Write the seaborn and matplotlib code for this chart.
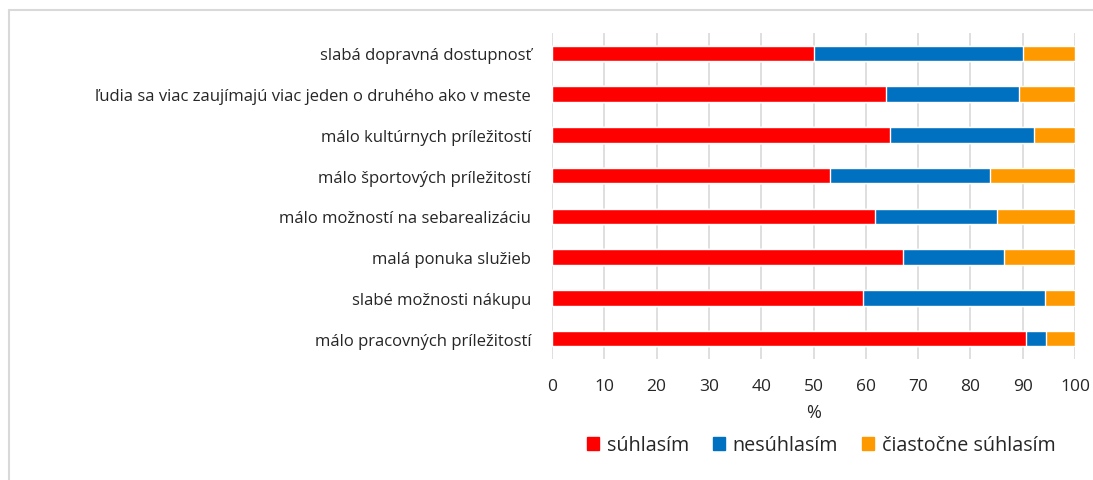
import matplotlib.pyplot as plt
import matplotlib.lines as mlines
import matplotlib.patches as mpatches
import seaborn as sns
import pandas as pd

categories = [
    "slabá dopravná dostupnosť",
    "ľudia sa viac zaujímajú viac jeden o druhého ako v meste",
    "málo kultúrnych príležitostí",
    "málo športových príležitostí",
    "málo možností na sebarealizáciu",
    "malá ponuka služieb",
    "slabé možnosti nákupu",
    "málo pracovných príležitostí",
]
suhlasim = [50.0, 63.8, 64.7, 53.1, 61.7, 67.2, 59.4, 90.7]
nesuhlasim = [40.0, 25.5, 27.5, 30.6, 23.4, 19.3, 34.8, 3.7]
ciastocne = [10.0, 10.7, 7.8, 16.3, 14.9, 13.5, 5.8, 5.6]

series = ["súhlasím", "nesúhlasím", "čiastočne súhlasím"]
colors = ["#ff0000", "#0070c0", "#ff9900"]

df = pd.DataFrame({"kat": categories, "s": suhlasim, "n": nesuhlasim, "c": ciastocne})
df["sn"] = df["s"] + df["n"]
df["snc"] = df["sn"] + df["c"]

sns.set_style("white")
plt.rcParams["font.family"] = ["Open Sans", "DejaVu Sans"]
txt = "#262626"

fig = plt.figure(figsize=(10.93, 4.81), dpi=100)
ax = fig.add_axes([552 / 1093, 1 - 360 / 481, (1075 - 552) / 1093, (360 - 34) / 481])

# stacked: draw cumulative totals from back to front
for col, c in zip(["snc", "sn", "s"], colors[::-1]):
    sns.barplot(data=df, x=col, y="kat", orient="h", color=c, width=0.38,
                saturation=1, ax=ax, zorder=3)

ax.set_xlim(0, 100)
ax.set_xticks(range(0, 101, 10))
ax.grid(axis="x", color="#d9d9d9", linewidth=1.2, zorder=0)
ax.set_axisbelow(True)
for s in ax.spines.values():
    s.set_visible(False)
ax.tick_params(axis="y", length=0, labelsize=12, colors=txt, pad=15)
ax.tick_params(axis="x", length=0, labelsize=12.5, colors=txt, pad=14)
ax.set_ylabel("")
ax.set_xlabel("%", fontsize=13, color=txt, labelpad=6)

handles = [mpatches.Patch(color=c, label=l) for c, l in zip(colors, series)]
ax.legend(handles=handles, loc="upper center", bbox_to_anchor=(0.515, -0.18),
          ncol=3, frameon=False, fontsize=14.2, handlelength=0.6, handleheight=0.6,
          handletextpad=0.4, columnspacing=1.2, labelcolor=txt)

# outer frame (only left and top visible)
fig.add_artist(mlines.Line2D([9 / 1093, 9 / 1093], [0, 1 - 11 / 481],
                             transform=fig.transFigure, color="#d9d9d9", linewidth=1.5))
fig.add_artist(mlines.Line2D([9 / 1093, 1], [1 - 11 / 481, 1 - 11 / 481],
                             transform=fig.transFigure, color="#d9d9d9", linewidth=1.5))

fig.savefig("out.png", dpi=100)
